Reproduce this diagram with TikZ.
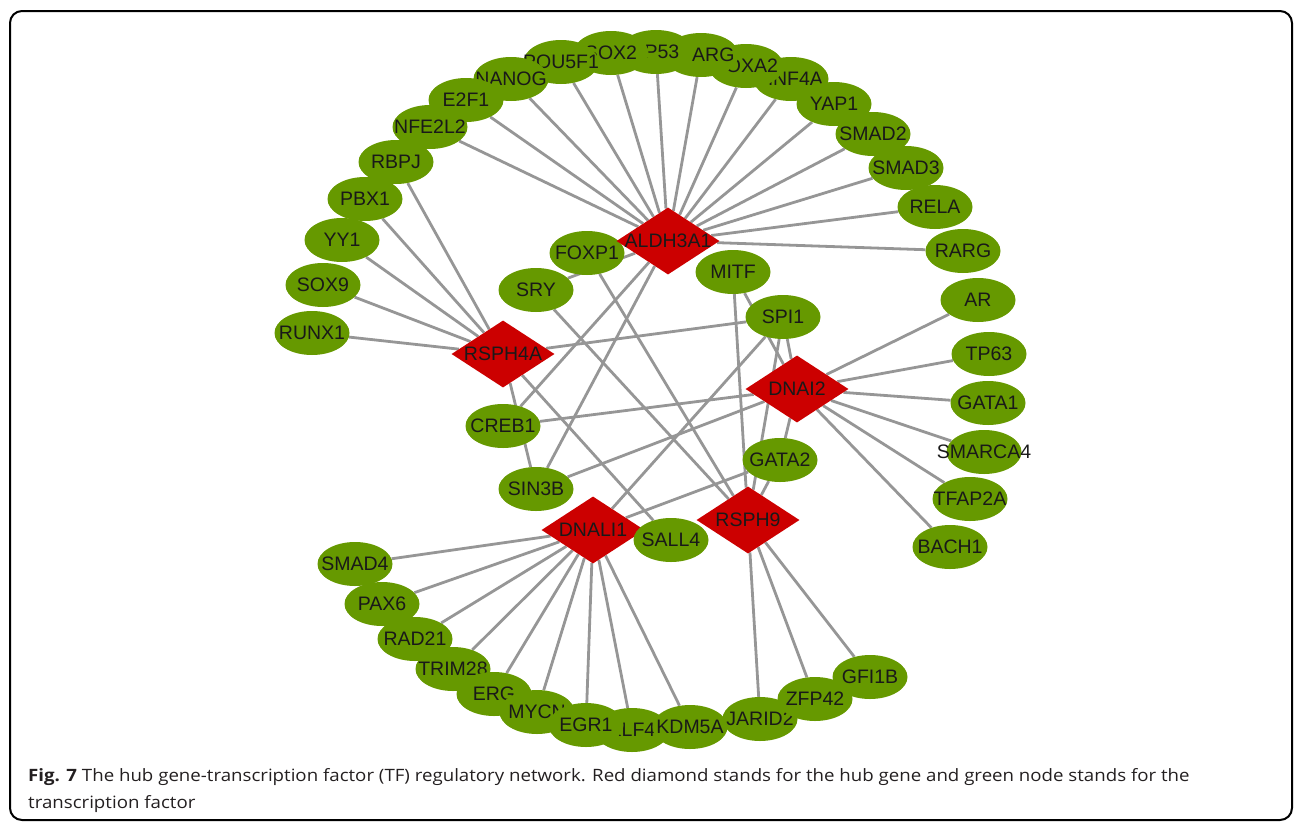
\documentclass[tikz,border=0pt]{standalone}
\usepackage{fontspec}
\setmainfont{Liberation Sans}
\newfontfamily\capfont{Open Sans}
\usetikzlibrary{shapes.geometric}
\pgfdeclarelayer{bg}
\pgfsetlayers{bg,main}
\definecolor{tfgreen}{RGB}{102,153,0}
\definecolor{hubred}{RGB}{204,0,0}
\definecolor{edgegray}{RGB}{150,150,150}
\definecolor{captext}{RGB}{35,31,32}
\tikzset{
  tf/.style={ellipse, fill=tfgreen, minimum width=75pt, minimum height=44pt, inner sep=0pt},
  hub/.style={diamond, fill=hubred, minimum width=103pt, minimum height=67pt, inner sep=0pt},
  lbl/.style={font=\fontsize{19.5}{20}\selectfont, inner sep=0pt, text=black!90},
  link/.style={draw=edgegray, line width=2.8pt},
  frame/.style={draw=black, line width=2pt, rounded corners=12pt},
  captxt/.style={anchor=base west, inner sep=0pt, text=captext, font=\capfont\fontsize{17}{20}\selectfont},
}
\newcommand\tfn[3]{\node[tf, label={[lbl]center:#3}] (#1) at (#2) {};}
\newcommand\hubn[3]{\node[hub, label={[lbl]center:#3}] (#1) at (#2) {};}
\begin{document}
\begin{tikzpicture}[x=1pt,y=-1pt]
\useasboundingbox (0,0) rectangle (1295,822);
\draw[frame] (10,11) rectangle (1292,820);

% top arc (draw order gives the overlaps)
\tfn{HNF4A}{791,79}{HNF4A}
\tfn{FOXA2}{746,66}{FOXA2}
\tfn{PPARG}{701,55}{PPARG}
\tfn{TP53}{656,52}{TP53}
\tfn{SOX2}{611,53}{SOX2}
\tfn{POU5F1}{561,62}{POU5F1}
\tfn{NANOG}{511,79}{NANOG}
\tfn{E2F1}{466,100}{E2F1}
\tfn{NFE2L2}{430,127}{NFE2L2}
\tfn{RBPJ}{396,162}{RBPJ}
\tfn{PBX1}{365,199}{PBX1}
\tfn{YY1}{342,240}{YY1}
\tfn{SOX9}{323,285}{SOX9}
\tfn{RUNX1}{312,333}{RUNX1}
\tfn{YAP1}{834,104}{YAP1}
\tfn{SMAD2}{873,134}{SMAD2}
\tfn{SMAD3}{906,168}{SMAD3}
\tfn{RELA}{935,207}{RELA}
\tfn{RARG}{963,251}{RARG}

% right side
\tfn{AR}{978,300}{AR}
\tfn{TP63}{989,354}{TP63}
\tfn{GATA1}{988,403}{GATA1}
\tfn{SMARCA4}{984,452}{SMARCA4}
\tfn{TFAP2A}{970,499}{TFAP2A}
\tfn{BACH1}{950,547}{BACH1}

% bottom arc
\tfn{SMAD4}{355,564}{SMAD4}
\tfn{PAX6}{382,604}{PAX6}
\tfn{RAD21}{415,639}{RAD21}
\tfn{TRIM28}{453,669}{TRIM28}
\tfn{ERG}{494,694}{ERG}
\tfn{MYCN}{537,712}{MYCN}
\tfn{KLF4}{632,730}{KLF4}
\tfn{EGR1}{586,725}{EGR1}
\tfn{KDM5A}{690,727}{KDM5A}
\tfn{JARID2}{760,719}{JARID2}
\tfn{ZFP42}{815,699}{ZFP42}
\tfn{GFI1B}{870,677}{GFI1B}

% inner
\tfn{FOXP1}{587,253}{FOXP1}
\tfn{SRY}{536,290}{SRY}
\tfn{MITF}{733,272}{MITF}
\tfn{SPI1}{783,317}{SPI1}
\tfn{CREB1}{503,426}{CREB1}
\tfn{SIN3B}{536,489}{SIN3B}
\tfn{GATA2}{780,460}{GATA2}

% hubs
\hubn{ALDH3A1}{668,241}{ALDH3A1}
\hubn{RSPH4A}{503,354}{RSPH4A}
\hubn{DNAI2}{797,389}{DNAI2}
\hubn{DNALI1}{593,530}{DNALI1}
\tfn{SALL4}{671,540}{SALL4}
\hubn{RSPH9}{748,520}{RSPH9}

\begin{pgfonlayer}{bg}
\foreach \a/\b in {
  ALDH3A1/NANOG, ALDH3A1/POU5F1, ALDH3A1/SOX2, ALDH3A1/TP53, ALDH3A1/PPARG,
  ALDH3A1/FOXA2, ALDH3A1/HNF4A, ALDH3A1/YAP1, ALDH3A1/SMAD2, ALDH3A1/SMAD3,
  ALDH3A1/RELA, ALDH3A1/RARG, ALDH3A1/E2F1, ALDH3A1/NFE2L2, ALDH3A1/SRY,
  ALDH3A1/CREB1, ALDH3A1/SIN3B,
  RSPH4A/RBPJ, RSPH4A/PBX1, RSPH4A/YY1, RSPH4A/SOX9, RSPH4A/RUNX1,
  RSPH4A/SPI1, RSPH4A/SIN3B, RSPH4A/SALL4,
  DNAI2/AR, DNAI2/TP63, DNAI2/GATA1, DNAI2/SMARCA4, DNAI2/TFAP2A, DNAI2/BACH1,
  DNAI2/MITF, DNAI2/SPI1, DNAI2/GATA2, DNAI2/CREB1, DNAI2/SIN3B,
  DNALI1/SMAD4, DNALI1/PAX6, DNALI1/RAD21, DNALI1/TRIM28, DNALI1/ERG,
  DNALI1/MYCN, DNALI1/EGR1, DNALI1/KLF4, DNALI1/KDM5A, DNALI1/SPI1, DNALI1/GATA2,
  RSPH9/JARID2, RSPH9/ZFP42, RSPH9/GFI1B, RSPH9/SRY, RSPH9/FOXP1,
  RSPH9/MITF, RSPH9/SPI1, RSPH9/GATA2}
  \draw[link] (\a) -- (\b);
\end{pgfonlayer}

\node[captxt] (cap1) at (28,781) {\scalebox{1.098}[1]{\textbf{Fig. 7} The hub gene-transcription factor (TF) regulatory network. Red diamond stands for the hub gene and green node stands for the}};
\node[captxt] (cap2) at (28,808) {\scalebox{1.098}[1]{transcription factor}};
\end{tikzpicture}
\end{document}
